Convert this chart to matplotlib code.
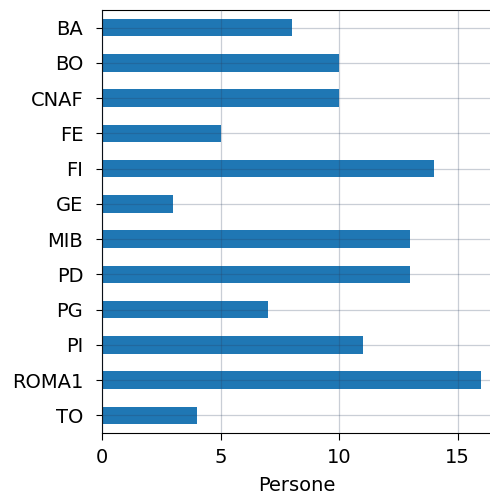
import matplotlib.pyplot as plt

sedi = ['BA', 'BO', 'CNAF', 'FE', 'FI', 'GE', 'MIB', 'PD', 'PG', 'PI', 'ROMA1', 'TO']
persone = [8, 10, 10, 5, 14, 3, 13, 13, 7, 11, 16, 4]

plt.rcParams['font.size'] = 14

fig = plt.figure(figsize=(4.9, 4.95), dpi=100)
ax = fig.add_axes([102 / 490, 62 / 495, 390 / 490, 423 / 495])

ax.barh(range(len(sedi)), persone, height=0.5, color='#1f77b4')
ax.set_yticks(range(len(sedi)))
ax.set_yticklabels(sedi)
ax.set_ylim(len(sedi) - 0.5, -0.5)
ax.set_xlim(0, 16.45)
ax.set_xticks([0, 5, 10, 15])
ax.tick_params(axis='x', length=5, pad=5.5)
ax.tick_params(axis='y', length=4, pad=9.5)
ax.set_xlabel('Persone', labelpad=7)
ax.grid(True, color='#2a3f5f', alpha=0.25, linewidth=0.9)
ax.set_axisbelow(False)

fig.savefig('out.png', dpi=100)
